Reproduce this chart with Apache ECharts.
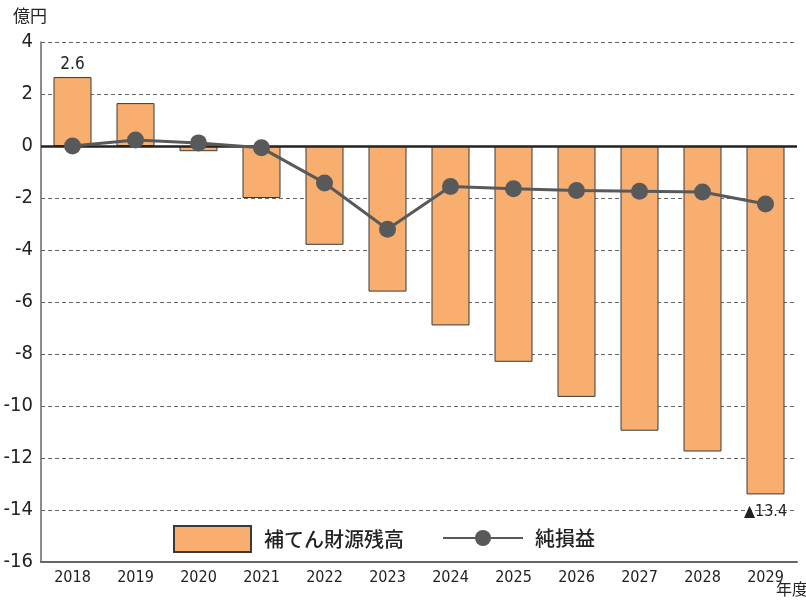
<!DOCTYPE html>
<html><head><meta charset="utf-8">
<script src="https://cdn.jsdelivr.net/npm/echarts@6/dist/echarts.min.js"></script>
<style>html,body{margin:0;padding:0;background:#fff}#c{width:806px;height:604px}</style>
</head><body><div id="c"></div>
<script>
const categories = ['2018','2019','2020','2021','2022','2023','2024','2025','2026','2027','2028','2029'];
const reserveBalance = [2.65, 1.65, -0.2, -2.0, -3.8, -5.6, -6.9, -8.3, -9.65, -10.95, -11.75, -13.4];
const netProfit = [0, 0.23, 0.12, -0.07, -1.42, -3.2, -1.56, -1.64, -1.71, -1.74, -1.77, -2.23];
const yTicks = {min: -16, max: 4, step: 2};
const barName = '補てん財源残高';
const lineName = '純損益';
const unitY = '億円';
const unitX = '年度';

const NUM = "'Liberation Sans Narrow','DejaVu Sans Condensed','Roboto',sans-serif";
const JP = "'Noto Sans CJK JP',sans-serif";

const barData = reserveBalance.map((v, i) => {
  const d = {value: v};
  if (i === 0) d.label = {show: true, position: 'top', distance: 4, formatter: '2.6', fontSize: 17, fontFamily: NUM, color: '#222'};
  if (i === reserveBalance.length - 1) d.label = {show: true, position: 'bottom', distance: 9, formatter: '▲13.4', fontSize: 16, fontFamily: NUM, color: '#222'};
  return d;
});

const chart = echarts.init(document.getElementById('c'), null, {renderer: 'canvas'});
chart.setOption({
  animation: false,
  grid: {left: 41, right: 9, top: 42, bottom: 42},
  legend: [
    {data: [barName], left: 173, top: 525, padding: 0, icon: 'rect', itemWidth: 77, itemHeight: 26, itemGap: 0,
     textStyle: {fontSize: 20, fontFamily: JP, fontWeight: 500, color: '#222', padding: [0, 0, 0, 8]}},
    {data: [lineName], left: 442, top: 528, padding: 0, itemWidth: 80, itemHeight: 20, itemGap: 0,
     textStyle: {fontSize: 20, fontFamily: JP, fontWeight: 500, color: '#222', padding: [0, 0, 0, 7]}}
  ],
  xAxis: {
    type: 'category', data: categories,
    axisLine: {onZero: false, lineStyle: {color: '#666', width: 2}},
    axisTick: {show: false},
    axisLabel: {fontSize: 16, fontFamily: NUM, color: '#222', margin: 8}
  },
  yAxis: {
    type: 'value', min: yTicks.min, max: yTicks.max, interval: yTicks.step,
    axisLine: {show: true, lineStyle: {color: '#666', width: 1.5}},
    axisTick: {show: false},
    axisLabel: {fontSize: 20, fontFamily: NUM, color: '#222', margin: 8},
    splitLine: {lineStyle: {color: '#666', type: [4, 3], width: 1}}
  },
  graphic: [
    {type: 'text', left: 13, top: 7, style: {text: unitY, fontSize: 17, fontFamily: JP, fill: '#222'}},
    {type: 'text', left: 776, top: 581, style: {text: unitX, fontSize: 16, fontFamily: JP, fill: '#222'}}
  ],
  series: [
    {
      name: barName, type: 'bar', data: barData, barWidth: 38, z: 2,
      itemStyle: {color: '#F8AE6E', borderColor: '#3a3a3a', borderWidth: 1},
      markLine: {
        silent: true, symbol: 'none', label: {show: false},
        lineStyle: {color: '#222', width: 2.5, type: 'solid'},
        data: [{yAxis: 0}]
      }
    },
    {
      name: lineName, type: 'line', data: netProfit, z: 5,
      symbol: 'circle', symbolSize: 17,
      lineStyle: {color: '#58595b', width: 3},
      itemStyle: {color: '#58595b'}
    }
  ]
});
</script>
</body></html>
